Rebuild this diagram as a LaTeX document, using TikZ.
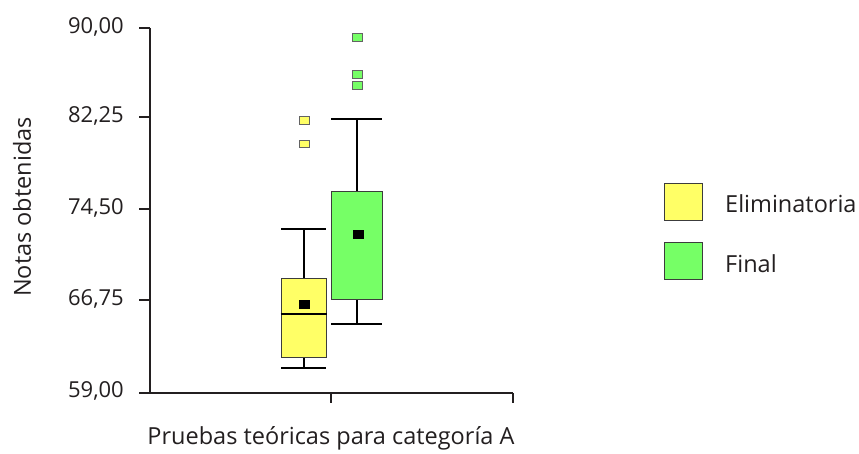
\documentclass[tikz,border=0pt]{standalone}
\usepackage{fontspec}
\setmainfont{Open Sans}
\definecolor{elimfill}{RGB}{255,255,102}
\definecolor{finalfill}{RGB}{118,255,102}
\definecolor{edgegray}{RGB}{60,60,60}
\definecolor{textgray}{RGB}{35,31,32}
\tikzset{
  axisline/.style={line width=1.4pt, textgray},
  whisker/.style={line width=2pt, black},
  boxplot/.style={rectangle, draw=edgegray, line width=1pt, inner sep=0pt},
  outlier/.style={rectangle, draw=edgegray!80, line width=1pt, inner sep=0pt, minimum width=10pt, minimum height=7.5pt},
  meanmark/.style={rectangle, fill=black, inner sep=0pt, minimum width=11pt, minimum height=9pt},
  ticklabel/.style={anchor=east, text=textgray, inner sep=0pt, font=\fontsize{22}{26}\selectfont},
}
\begin{document}
\begin{tikzpicture}[x=1pt, y=-1pt, font=\fontsize{23.5}{28}\selectfont]
      \useasboundingbox (0,0) rectangle (859,454);
      % axes
      \coordinate (o) at (150,393);
      \coordinate (ytop) at (150,28);
      \coordinate (xend) at (513,393);
      \draw[axisline] (ytop) -- (o) -- (xend);
      \node (t1)[ticklabel] at (124,26.5) {90,00};
      \node (t2)[ticklabel] at (124,116) {82,25};
      \node (t3)[ticklabel] at (124,208) {74,50};
      \node (t4)[ticklabel] at (124,299) {66,75};
      \node (t5)[ticklabel] at (124,391) {59,00};
      \draw[axisline] (139,28) -- (150,28);
      \draw[axisline] (139,117) -- (150,117);
      \draw[axisline] (139,209) -- (150,209);
      \draw[axisline] (139,300) -- (150,300);
      \draw[axisline] (139,393) -- (150,393);
      \draw[axisline] (331,393) -- (331,403);
      \draw[axisline] (513,393) -- (513,403);
      \node (ylab)[rotate=90, text=textgray] at (22,207) {Notas obtenidas};
      \node (xlab)[text=textgray] at (331,438) {Pruebas teóricas para categoría A};
      % Eliminatoria
      \coordinate (e-hi) at (303.5,229.5);
      \coordinate (e-lo) at (303.5,367.5);
      \draw[whisker] (e-hi) -- (303.5,278);
      \draw[whisker] (e-lo) -- (303.5,357);
      \draw[whisker] (281,229.5) -- (326,229.5);
      \draw[whisker] (281,367.5) -- (326,367.5);
      \node (ebox)[boxplot, fill=elimfill, minimum width=45pt, minimum height=79pt] at (303.7,317.7) {};
      \draw[whisker, line width=1.8pt] (ebox.west |- 0,313.7) -- (ebox.east |- 0,313.7);
      \node (emean)[meanmark] at (304.5,304.3) {};
      \node (eo1)[outlier, fill=elimfill] at (304,120.5) {};
      \node (eo2)[outlier, fill=elimfill] at (304,144) {};
      % Final
      \coordinate (f-hi) at (357,119.5);
      \coordinate (f-lo) at (357,324.3);
      \draw[whisker] (f-hi) -- (357,192);
      \draw[whisker] (f-lo) -- (357,299);
      \draw[whisker] (331.3,119.5) -- (382.3,119.5);
      \draw[whisker] (331.3,324.3) -- (382.3,324.3);
      \node (fbox)[boxplot, fill=finalfill, minimum width=51pt, minimum height=107.6pt] at (356.8,245.5) {};
      \node (fmean)[meanmark] at (358.7,234.3) {};
      \node (fo1)[outlier, fill=finalfill] at (357.8,37.3) {};
      \node (fo2)[outlier, fill=finalfill] at (357.8,74.3) {};
      \node (fo3)[outlier, fill=finalfill] at (357.8,85.3) {};
      % legend
      \node (lg1)[boxplot, fill=elimfill, minimum width=38pt, minimum height=37pt] at (683,202.5) {};
      \node (lg2)[boxplot, fill=finalfill, minimum width=38pt, minimum height=37pt] at (683,261.5) {};
      \node (lt1)[anchor=west, text=textgray, inner sep=0pt] at (725,203.5) {Eliminatoria};
      \node (lt2)[anchor=west, text=textgray, inner sep=0pt] at (725,264) {Final};
    \end{tikzpicture}
\end{document}
